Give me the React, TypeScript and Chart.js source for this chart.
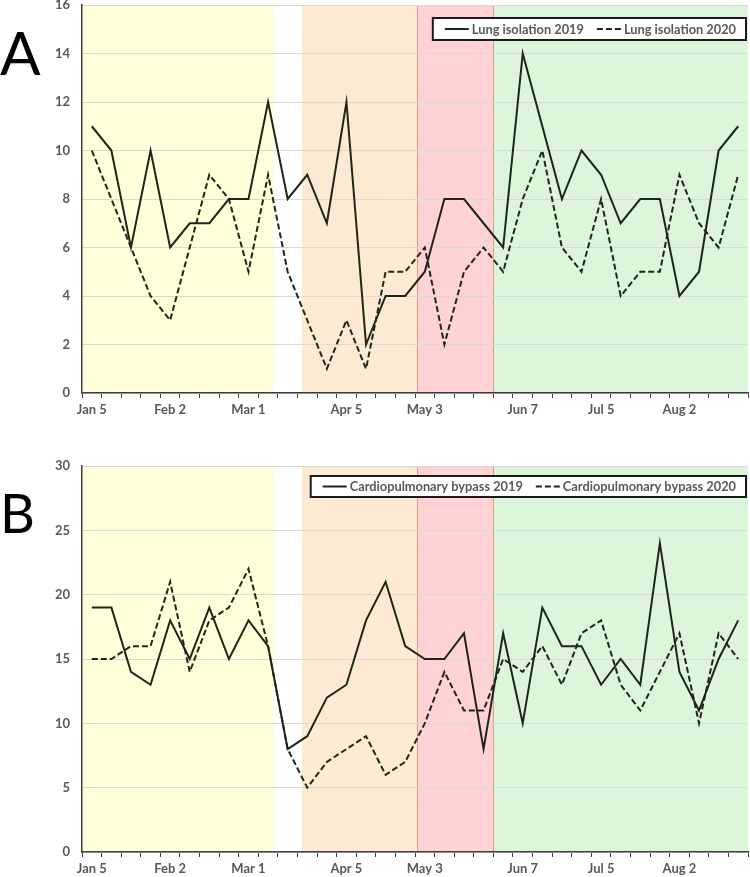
import React, { useEffect, useRef } from "react";
import { Chart, registerables } from "chart.js";

Chart.register(...registerables);

// ---------- data ----------
const weeks = [
  "Jan 5", "Jan 12", "Jan 19", "Jan 26", "Feb 2", "Feb 9", "Feb 16", "Feb 23",
  "Mar 1", "Mar 8", "Mar 15", "Mar 22", "Mar 29", "Apr 5", "Apr 12", "Apr 19",
  "Apr 26", "May 3", "May 10", "May 17", "May 24", "May 31", "Jun 7", "Jun 14",
  "Jun 21", "Jun 28", "Jul 5", "Jul 12", "Jul 19", "Jul 26", "Aug 2", "Aug 9",
  "Aug 16", "Aug 23",
];
const shownTicks = ["Jan 5", "Feb 2", "Mar 1", "Apr 5", "May 3", "Jun 7", "Jul 5", "Aug 2"];

const lung2019 = [11, 10, 6, 10, 6, 7, 7, 8, 8, 12, 8, 9, 7, 12, 2, 4, 4, 5, 8, 8, 7, 6, 14, 11, 8, 10, 9, 7, 8, 8, 4, 5, 10, 11];
const lung2020 = [10, 8, 6, 4, 3, 6, 9, 8, 5, 9, 5, 3, 1, 3, 1, 5, 5, 6, 2, 5, 6, 5, 8, 10, 6, 5, 8, 4, 5, 5, 9, 7, 6, 9];
const cpb2019 = [19, 19, 14, 13, 18, 15, 19, 15, 18, 16, 8, 9, 12, 13, 18, 21, 16, 15, 15, 17, 8, 17, 10, 19, 16, 16, 13, 15, 13, 24, 14, 11, 15, 18];
const cpb2020 = [15, 15, 16, 16, 21, 14, 18, 19, 22, 16, 8, 5, 7, 8, 9, 6, 7, 10, 14, 11, 11, 15, 14, 16, 13, 17, 18, 13, 11, 14, 17, 10, 17, 15];

// phase periods, in week-index units
const phaseStart = [-0.5, 10.73, 16.59, 20.5];
const phaseEnd = [9.27, 16.59, 20.5, 33.5];
const phaseColor = ["#FFFFD9", "#FDEAD3", "#FFD3D3", "#DDF5DA"];

// ---------- styles ----------
const LINE = "#1f2619";
const TICK_COLOR = "#595959";
const FONT = "Lato";

const phasePlugin = {
  id: "phaseBands",
  beforeDraw(chart: any) {
    const { ctx, chartArea: a, scales } = chart;
    const x = scales.x;
    ctx.save();
    for (let i = 0; i < phaseStart.length; i++) {
      const x0 = x.getPixelForValue(phaseStart[i]);
      const x1 = x.getPixelForValue(phaseEnd[i]);
      ctx.fillStyle = phaseColor[i];
      ctx.fillRect(x0, a.top, x1 - x0, a.bottom - a.top);
    }
    // darker edges around the red period
    ctx.strokeStyle = "rgba(225,140,115,0.85)";
    ctx.lineWidth = 1;
    [phaseStart[2], phaseEnd[2]].forEach((v) => {
      const px = Math.round(x.getPixelForValue(v)) + 0.5;
      ctx.beginPath();
      ctx.moveTo(px, a.top);
      ctx.lineTo(px, a.bottom);
      ctx.stroke();
    });
    ctx.restore();
  },
};

const boxLegendPlugin = {
  id: "boxLegend",
  afterDraw(chart: any, _args: any, opts: any) {
    const { ctx, chartArea } = chart;
    ctx.save();
    ctx.font = `bold 12.8px ${FONT}`;
    const items = chart.data.datasets.map((d: any) => ({ text: d.label, dash: d.borderDash || [] }));
    const padL = 12, sample = 24, gap = 3, itemGap = 13, padR = 10;
    let w = padL + padR;
    items.forEach((it: any, i: number) => {
      w += sample + gap + ctx.measureText(it.text).width + (i < items.length - 1 ? itemGap : 0);
    });
    const right = chartArea.right - 2;
    const left = right - w;
    const top = chartArea.top + opts.offsetTop;
    const h = opts.height;
    ctx.fillStyle = "#ffffff";
    ctx.fillRect(left, top, w, h);
    ctx.strokeStyle = "#1a1a1a";
    ctx.lineWidth = 2;
    ctx.strokeRect(left, top, w, h);
    let cx = left + padL;
    const cy = top + h / 2;
    items.forEach((it: any) => {
      ctx.strokeStyle = LINE;
      ctx.lineWidth = 2;
      ctx.setLineDash(it.dash);
      ctx.beginPath();
      ctx.moveTo(cx, cy);
      ctx.lineTo(cx + sample, cy);
      ctx.stroke();
      ctx.setLineDash([]);
      cx += sample + gap;
      ctx.fillStyle = TICK_COLOR;
      ctx.textBaseline = "middle";
      ctx.textAlign = "left";
      ctx.fillText(it.text, cx, cy + 0.5);
      cx += ctx.measureText(it.text).width + itemGap;
    });
    ctx.restore();
  },
};

const panelLetterPlugin = {
  id: "panelLetter",
  afterDraw(chart: any, _args: any, opts: any) {
    const { ctx } = chart;
    ctx.save();
    ctx.font = `${opts.size}px ${FONT}`;
    ctx.fillStyle = "#000000";
    ctx.textBaseline = "alphabetic";
    ctx.textAlign = "left";
    ctx.fillText(opts.text, opts.x, opts.baseline);
    ctx.restore();
  },
};

type PanelProps = {
  width: number;
  height: number;
  series2019: number[];
  series2020: number[];
  label2019: string;
  label2020: string;
  yMax: number;
  yStep: number;
  padTop: number;
  xAxisHeight: number;
  letter: string;
  letterSize: number;
  letterBaseline: number;
  legendOffset: number;
  legendHeight: number;
};

function Panel(p: PanelProps) {
  const ref = useRef<HTMLCanvasElement | null>(null);
  useEffect(() => {
    if (!ref.current) return;
    const chart = new Chart(ref.current, {
      type: "line",
      data: {
        labels: weeks,
        datasets: [
          {
            label: p.label2019,
            data: p.series2019,
            borderColor: LINE,
            borderWidth: 2,
            pointRadius: 0,
            tension: 0,
            fill: false,
          },
          {
            label: p.label2020,
            data: p.series2020,
            borderColor: LINE,
            borderWidth: 2,
            borderDash: [6, 3],
            pointRadius: 0,
            tension: 0,
            fill: false,
          },
        ],
      },
      options: {
        responsive: false,
        animation: false,
        devicePixelRatio: 1,
        layout: { padding: { top: p.padTop, right: 2, left: 0, bottom: 0 } },
        plugins: {
          legend: { display: false },
          tooltip: { enabled: false },
          boxLegend: { offsetTop: p.legendOffset, height: p.legendHeight },
          panelLetter: { text: p.letter, size: p.letterSize, x: 0, baseline: p.letterBaseline },
        } as any,
        scales: {
          x: {
            type: "category",
            offset: true,
            grid: {
              display: true,
              drawOnChartArea: false,
              drawTicks: true,
              tickLength: 5,
              color: "#404040",
              offset: true,
            },
            border: { display: true, color: "#404040", width: 1.5 },
            ticks: {
              autoSkip: false,
              maxRotation: 0,
              minRotation: 0,
              padding: 4,
              color: TICK_COLOR,
              font: { family: FONT, weight: "bold", size: 13 },
              callback: (_v: any, i: number) => (shownTicks.includes(weeks[i]) ? weeks[i] : ""),
            },
            afterFit: (s: any) => {
              s.height = p.xAxisHeight;
              s.paddingLeft = 0;
              s.paddingRight = 0;
            },
          },
          y: {
            min: 0,
            max: p.yMax,
            grid: { color: "#d9d9d9", drawTicks: false, lineWidth: 1 },
            border: { display: true, color: "#404040", width: 1.5 },
            ticks: {
              stepSize: p.yStep,
              padding: 12,
              color: TICK_COLOR,
              font: { family: FONT, weight: "bold", size: 13 },
            },
            afterFit: (s: any) => {
              s.width = 82;
              s.paddingTop = 0;
              s.paddingBottom = 0;
            },
          },
        },
      } as any,
      plugins: [phasePlugin, boxLegendPlugin, panelLetterPlugin],
    });
    return () => chart.destroy();
  }, []);
  return (
    <canvas
      ref={ref}
      width={p.width}
      height={p.height}
      style={{ display: "block", width: p.width, height: p.height }}
    />
  );
}

export default function App() {
  return (
    <div style={{ position: "absolute", left: 0, top: 0, width: 750, height: 877, background: "#ffffff" }}>
      <div style={{ position: "absolute", left: 0, top: 0 }}>
        <Panel
          width={750}
          height={425}
          series2019={lung2019}
          series2020={lung2020}
          label2019="Lung isolation 2019"
          label2020="Lung isolation 2020"
          yMax={16}
          yStep={2}
          padTop={5}
          xAxisHeight={32}
          letter="A"
          letterSize={60}
          letterBaseline={75}
          legendOffset={13}
          legendHeight={22}
        />
      </div>
      <div style={{ position: "absolute", left: 0, top: 440 }}>
        <Panel
          width={750}
          height={437}
          series2019={cpb2019}
          series2020={cpb2020}
          label2019="Cardiopulmonary bypass 2019"
          label2020="Cardiopulmonary bypass 2020"
          yMax={30}
          yStep={5}
          padTop={26}
          xAxisHeight={25}
          letter="B"
          letterSize={54}
          letterBaseline={93}
          legendOffset={10}
          legendHeight={21}
        />
      </div>
    </div>
  );
}
